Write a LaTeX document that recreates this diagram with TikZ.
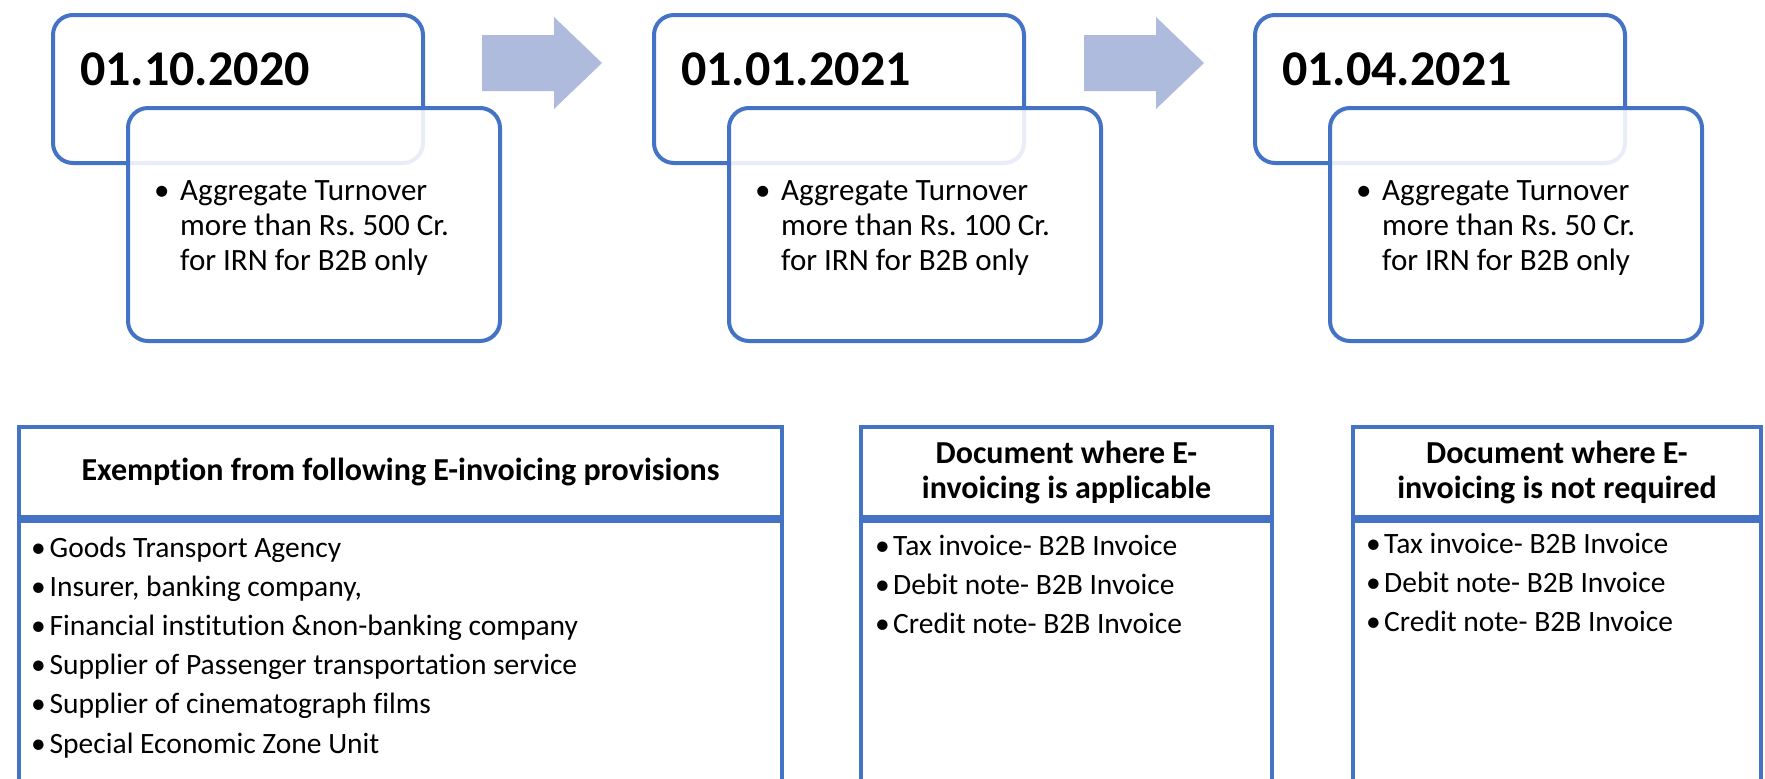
\documentclass[tikz,border=0pt]{standalone}
\usepackage{fontspec}
\setmainfont{Carlito}[Ligatures={NoCommon}]
\definecolor{boxblue}{RGB}{68,114,196}
\definecolor{arrowcol}{RGB}{174,187,221}
\newcommand\blt[1]{\makebox[#1][l]{•}}
\begin{document}
\begin{tikzpicture}[x=1pt,y=-1pt,
  rbox/.style={draw=boxblue, line width=4pt, rounded corners=20pt, inner sep=0pt, outer sep=0pt},
  sbox/.style={draw=boxblue, line width=4pt, inner sep=0pt, outer sep=0pt, fill=white},
  datetxt/.style={font=\fontsize{50}{55}\selectfont\bfseries, inner sep=0pt, anchor=base west},
  bodytxt/.style={font=\fontsize{31}{35}\selectfont, inner sep=0pt, anchor=base west, align=left},
  headtxt/.style={font=\fontsize{32}{35}\selectfont\bfseries, inner sep=0pt, align=center},
  listtxt/.style={font=\fontsize{29.5}{39.2}\selectfont, inner sep=0pt, anchor=base west, align=left},
  arr/.style={fill=arrowcol, draw=none}]
\useasboundingbox (0,0) rectangle (1765,779);
\clip (0,0) rectangle (1765,779);
\fill[white] (0,0) rectangle (1765,779);

% timeline groups
\foreach \i/\dx/\dt/\amt in {1/0/01.10.2020/500, 2/601/01.01.2021/100, 3/1202/01.04.2021/50}{
  \node[rbox, minimum width=370pt, minimum height=148pt] (date\i) at (238+\dx,89) {};
  \node[datetxt] (dtxt\i) at (80+\dx,85) {\dt};
  \node[rbox, fill=white, fill opacity=0.88, minimum width=372pt, minimum height=233pt] (det\i) at (314+\dx,224.5) {};
  \node[bodytxt] (dbody\i) at (154+\dx,270) {\blt{26pt}Aggregate Turnover\\\hspace*{26pt}more than Rs.\ \amt{} Cr.\\\hspace*{26pt}for IRN for B2B only};
}

% arrows
\path[arr] (482,35) -- (554,35) -- (554,17) -- (602,63) -- (554,109) -- (554,91) -- (482,91) -- cycle;
\path[arr] (1084,35) -- (1156,35) -- (1156,17) -- (1204,63) -- (1156,109) -- (1156,91) -- (1084,91) -- cycle;

% table 1
\node[sbox, minimum width=763pt, minimum height=90pt] (h1) at (400.5,472) {};
\node[sbox, minimum width=763pt, minimum height=279pt] (b1) at (400.5,660.5) {};
\node[headtxt] (ht1) at (h1.center) {Exemption from following E-invoicing provisions};
\node[listtxt] (l1) at (31,753) {\blt{18.5pt}Goods Transport Agency\\
\blt{18.5pt}Insurer, banking company,\\
\blt{18.5pt}Financial institution \&non-banking company\\
\blt{18.5pt}Supplier of Passenger transportation service\\
\blt{18.5pt}Supplier of cinematograph films\\
\blt{18.5pt}Special Economic Zone Unit};

% table 2
\node[sbox, minimum width=411pt, minimum height=90pt] (h2) at (1066.5,472) {};
\node[sbox, minimum width=411pt, minimum height=279pt] (b2) at (1066.5,660.5) {};
\node[headtxt] (ht2) at (h2.center) {Document where E-\\invoicing is applicable};
\node[listtxt] (l2) at (875,633.4) {\blt{18pt}Tax invoice- B2B Invoice\\
\blt{18pt}Debit note- B2B Invoice\\
\blt{18pt}Credit note- B2B Invoice};

% table 3
\node[sbox, minimum width=408pt, minimum height=90pt] (h3) at (1557,472) {};
\node[sbox, minimum width=408pt, minimum height=279pt] (b3) at (1557,660.5) {};
\node[headtxt] (ht3) at (h3.center) {Document where E-\\invoicing is not required};
\node[listtxt] (l3) at (1366,631.4) {\blt{18pt}Tax invoice- B2B Invoice\\
\blt{18pt}Debit note- B2B Invoice\\
\blt{18pt}Credit note- B2B Invoice};
\end{tikzpicture}
\end{document}
